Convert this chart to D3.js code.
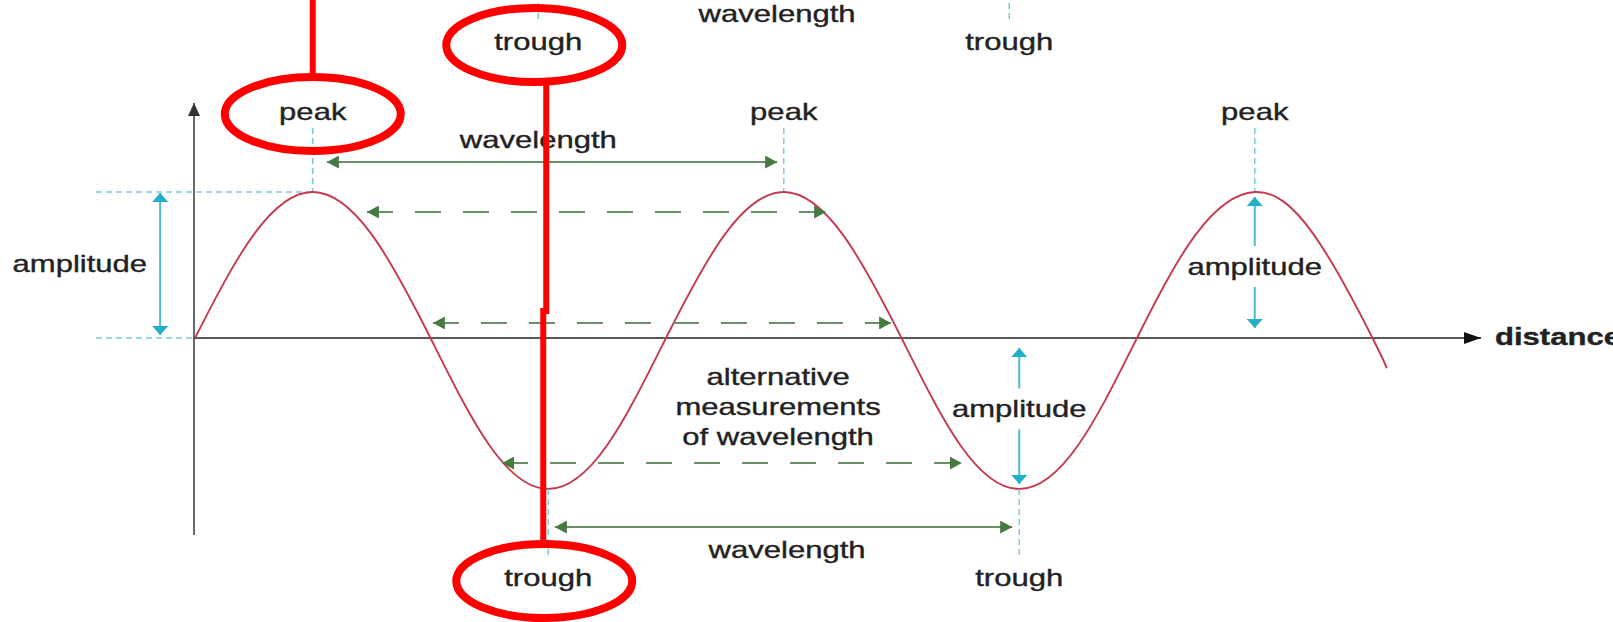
<!DOCTYPE html>
<html>
<head>
<meta charset="utf-8">
<style>
  html, body { margin: 0; padding: 0; background: #fff; overflow: hidden; }
  svg { display: block; }
</style>
<script src="https://cdn.jsdelivr.net/npm/d3@7"></script>
</head>
<body>
<div id="chart"></div>
<script>
const width = 1613;
const height = 622;

// wave, x in wavelengths, y in amplitudes
const wavePoints = [
  [0, 0], [0.125, 0.71], [0.25, 1], [0.375, 0.71], [0.5, 0], [0.625, -0.71], [0.75, -1], [0.875, -0.71],
  [1, 0], [1.125, 0.71], [1.25, 1], [1.375, 0.71], [1.5, 0], [1.625, -0.71], [1.75, -1], [1.875, -0.71],
  [2, 0], [2.125, 0.71], [2.25, 1], [2.375, 0.71], [2.5, 0], [2.53, -0.2]
];
const peaks = [0.25, 1.25, 2.25];
const troughs = [0.75, 1.75];

// solid "wavelength" arrows: peak to peak, trough to trough
const wavelengthArrows = [
  { from: 0.28, to: 1.236, level: 1.205, labelAt: 0.729 },
  { from: 0.764, to: 1.735, level: -1.252, labelAt: 1.257 }
];
// dashed "alternative measurements"
const altArrows = [
  { from: 0.365, to: 1.34, level: 0.863 },
  { from: 0.505, to: 1.478, level: 0.103 },
  { from: 0.652, to: 1.628, level: -0.828 }
];
const altLines = ["alternative", "measurements", "of wavelength"];
const altLabelAt = 1.238;

const amplitudeArrows = [
  { at: -0.074, to: 1, side: "left" },
  { at: 2.25, to: 1, side: "inline" },
  { at: 1.75, to: -1, side: "inline" }
];

// red hand-drawn highlights
const highlights = [
  { kind: "peak", i: 0, strip: false },
  { kind: "trough", i: 0, strip: true },
  { kind: "trough", i: 0, strip: false }
];

const stretch = 1.35;
const font = "'Liberation Sans', Arial, Helvetica, sans-serif";
const textColor = "#222";
const waveColor = "#c43a4e";
const greenLine = "#6b8f66";
const greenHead = "#467a41";
const cyanLine = "#4dbad0";
const cyanHead = "#22aec6";
const cyanGuide = "#7ccadb";
const red = "#ff0000";

const stripShift = [-10, -536];
const peakBaseline = 120;
const troughBaseline = 586;

const x = d3.scaleLinear().domain([0, 1]).range([195, 666]);
const y = d3.scaleLinear().domain([-1, 0, 1]).range([489, 338, 192]);

const svg = d3.select("#chart")
  .append("svg")
  .attr("width", width)
  .attr("height", height)
  .attr("viewBox", [0, 0, width, height]);

svg.append("rect").attr("width", width).attr("height", height).attr("fill", "#fff");

const defs = svg.append("defs");
function marker(id, color, len, half) {
  defs.append("marker")
    .attr("id", id)
    .attr("markerUnits", "userSpaceOnUse")
    .attr("viewBox", `0 ${-half} ${len} ${2 * half}`)
    .attr("refX", len)
    .attr("refY", 0)
    .attr("markerWidth", len)
    .attr("markerHeight", 2 * half)
    .attr("orient", "auto-start-reverse")
    .append("path")
    .attr("d", `M0,${-half}L${len},0L0,${half}Z`)
    .attr("fill", color);
}
marker("head-green", greenHead, 12, 6.5);
marker("head-cyan", cyanHead, 9, 8);
marker("head-x", "#111", 17, 6);
marker("head-y", "#333", 13, 6);

function label(g, text, px, py, anchor = "middle", bold = false) {
  return g.append("text")
    .attr("transform", `translate(${px},${py}) scale(${stretch},1)`)
    .attr("text-anchor", anchor)
    .attr("font-family", font)
    .attr("font-size", 23)
    .attr("font-weight", bold ? "bold" : "normal")
    .attr("fill", textColor)
    .attr("stroke", textColor)
    .attr("stroke-width", 0.35)
    .text(text);
}

function guide(g, x1, y1, x2, y2) {
  g.append("line")
    .attr("x1", x1).attr("y1", y1).attr("x2", x2).attr("y2", y2)
    .attr("stroke", cyanGuide)
    .attr("stroke-width", 1.5)
    .attr("stroke-dasharray", "6,4");
}

// guides at the peak and zero levels, left of the axis
const guides = svg.append("g");
guide(guides, 96, y(1), x(peaks[0]), y(1));
guide(guides, 96, y(0), x(0) - 1, y(0));
peaks.forEach(p => guide(guides, x(p), 128, x(p), y(1)));

// axes
svg.append("line")
  .attr("x1", x(0) - 1).attr("y1", 535)
  .attr("x2", x(0) - 1).attr("y2", 103)
  .attr("stroke", "#444").attr("stroke-width", 1.6)
  .attr("marker-end", "url(#head-y)");
svg.append("line")
  .attr("x1", x(0) - 1).attr("y1", y(0))
  .attr("x2", 1481).attr("y2", y(0))
  .attr("stroke", "#222").attr("stroke-width", 1.5)
  .attr("marker-end", "url(#head-x)");
label(svg, "distance", 1495, y(0) + 7, "start", true);

// the wave
const line = d3.line()
  .x(d => x(d[0]))
  .y(d => y(d[1]))
  .curve(d3.curveNatural);
svg.append("path")
  .datum(wavePoints)
  .attr("d", line)
  .attr("fill", "none")
  .attr("stroke", waveColor)
  .attr("stroke-width", 1.9);

// alternative measurements
svg.append("g")
  .selectAll("line")
  .data(altArrows)
  .join("line")
  .attr("x1", d => x(d.from)).attr("x2", d => x(d.to))
  .attr("y1", d => y(d.level)).attr("y2", d => y(d.level))
  .attr("stroke", greenLine)
  .attr("stroke-width", 2)
  .attr("stroke-dasharray", "26,22")
  .attr("marker-start", "url(#head-green)")
  .attr("marker-end", "url(#head-green)");
altLines.forEach((t, i) => label(svg, t, x(altLabelAt), y(0) + 47 + i * 30));

// upper wavelength arrow and peak labels
const upper = svg.append("g");
const wTop = wavelengthArrows[0];
upper.append("line")
  .attr("x1", x(wTop.from)).attr("x2", x(wTop.to))
  .attr("y1", y(wTop.level)).attr("y2", y(wTop.level))
  .attr("stroke", greenLine).attr("stroke-width", 2)
  .attr("marker-start", "url(#head-green)")
  .attr("marker-end", "url(#head-green)");
label(upper, "wavelength", x(wTop.labelAt), y(wTop.level) - 14);
peaks.forEach(p => label(upper, "peak", x(p), peakBaseline));

// troughs and the lower wavelength arrow (also repeated, cropped, at the top)
function drawBelow(g) {
  troughs.forEach(t => {
    guide(g, x(t), y(-1), x(t), 557);
    label(g, "trough", x(t), troughBaseline);
  });
  const w = wavelengthArrows[1];
  g.append("line")
    .attr("x1", x(w.from)).attr("x2", x(w.to))
    .attr("y1", y(w.level)).attr("y2", y(w.level))
    .attr("stroke", greenLine).attr("stroke-width", 2)
    .attr("marker-start", "url(#head-green)")
    .attr("marker-end", "url(#head-green)");
  label(g, "wavelength", x(w.labelAt), y(w.level) + 31);
}
drawBelow(svg.append("g"));
drawBelow(svg.append("g").attr("transform", `translate(${stripShift})`));

// amplitude arrows
amplitudeArrows.forEach(a => {
  const px = x(a.at);
  const g = svg.append("g")
    .attr("stroke", cyanLine)
    .attr("stroke-width", 2);
  const y0 = y(0), y1 = y(a.to);
  const dir = Math.sign(y1 - y0);
  if (a.side === "left") {
    g.append("line")
      .attr("x1", px).attr("x2", px)
      .attr("y1", y0 + dir * 3).attr("y2", y1 - dir * 1)
      .attr("marker-start", "url(#head-cyan)")
      .attr("marker-end", "url(#head-cyan)");
    label(svg, "amplitude", px - 13, (y0 + y1) / 2 + 7, "end");
  } else {
    const mid = (y0 + y1) / 2;
    const c = mid + (dir < 0 ? 2 : -5);
    g.append("line")
      .attr("x1", px).attr("x2", px)
      .attr("y1", c - dir * 20).attr("y2", y0 + dir * 10)
      .attr("marker-end", "url(#head-cyan)");
    g.append("line")
      .attr("x1", px).attr("x2", px)
      .attr("y1", c + dir * 21).attr("y2", y1 - dir * 5)
      .attr("marker-end", "url(#head-cyan)");
    label(svg, "amplitude", px, c + 8);
  }
});

// red highlights
const marks = svg.append("g")
  .attr("fill", "none")
  .attr("stroke", red);
const centers = highlights.map(h => {
  if (h.kind === "peak") return [x(peaks[h.i]), peakBaseline - 6];
  const cx = x(troughs[h.i]) - 4 + (h.strip ? stripShift[0] : 0);
  const cy = troughBaseline - 5 + (h.strip ? stripShift[1] : 0);
  return [cx, cy];
});
marks.selectAll("ellipse")
  .data(centers)
  .join("ellipse")
  .attr("cx", d => d[0]).attr("cy", d => d[1])
  .attr("rx", 88).attr("ry", 37)
  .attr("stroke-width", 8);

const [pc, sc, tc] = centers;
marks.append("line")
  .attr("x1", pc[0]).attr("y1", 0)
  .attr("x2", pc[0]).attr("y2", pc[1] - 37)
  .attr("stroke-width", 6);
const jogY = 311;
marks.append("path")
  .attr("d", `M${sc[0] + 12},${sc[1] + 35}V${jogY}H${sc[0] + 9}V${tc[1] - 35}`)
  .attr("stroke-width", 6);
</script>
</body>
</html>
